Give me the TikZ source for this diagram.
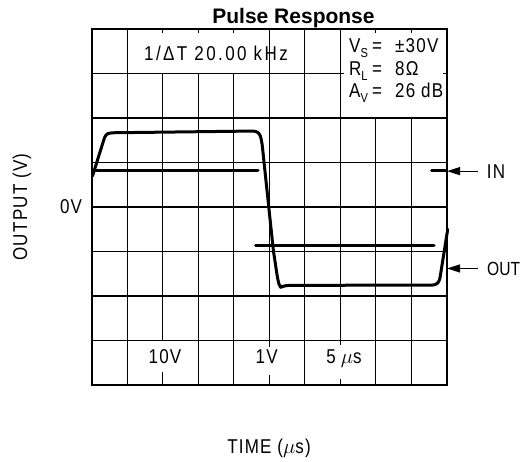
\documentclass[tikz,border=0pt]{standalone}
\usepackage{fontspec}
\usetikzlibrary{arrows.meta}
\setmainfont{Liberation Sans}
\newfontfamily\lblfont[FakeStretch=0.85,LetterSpace=6]{Liberation Sans}
\newfontfamily\tightfont[FakeStretch=0.82]{Liberation Sans}
\newfontfamily\widefont[FakeStretch=0.85,LetterSpace=12]{Liberation Sans}
\newcommand\GX[1]{91.7+35.5*(#1)}
\newcommand\GY[1]{29+44.5*(#1)}
\newcommand\subl[1]{\raisebox{-5pt}{\fontsize{13}{13}\selectfont #1}}
\tikzset{
  lbl/.style={font={\lblfont\fontsize{20}{22}\selectfont}, inner sep=0pt},
  gridline/.style={line width=1.2pt},
  border/.style={line width=2pt},
  trace/.style={line width=3pt, line join=round, line cap=round},
  arr/.style={line width=1.2pt, -{Triangle[length=13pt,width=8pt]}},
}
\begin{document}
\begin{tikzpicture}[x=1pt,y=-1pt]
\useasboundingbox (0,0) rectangle (521,461);
% vertical grid lines
\draw[gridline] ({\GX{1}},{\GY{0}}) -- ({\GX{1}},{\GY{8}});
\draw[gridline] ({\GX{2}},{\GY{0}}) -- ({\GX{2}},{\GY{0}+4});
\draw[gridline] ({\GX{2}},{\GY{1}}) -- ({\GX{2}},{\GY{7}});
\draw[gridline] ({\GX{2}},{\GY{8}-13}) -- ({\GX{2}},{\GY{8}});
\foreach \i in {3,4}{
  \draw[gridline] ({\GX{\i}},{\GY{0}}) -- ({\GX{\i}},{\GY{0}+4});
  \draw[gridline] ({\GX{\i}},{\GY{1}}) -- ({\GX{\i}},{\GY{8}});
}
\draw[gridline] ({\GX{5}},{\GY{0}}) -- ({\GX{5}},{\GY{7}+6});
\draw[gridline] ({\GX{5}},{\GY{8}-10}) -- ({\GX{5}},{\GY{8}});
\draw[gridline] ({\GX{6}},{\GY{0}}) -- ({\GX{6}},{\GY{8}});
\draw[gridline] ({\GX{7}},{\GY{0}}) -- ({\GX{7}},{\GY{7}+4});
\draw[gridline] ({\GX{7}},{\GY{8}-6}) -- ({\GX{7}},{\GY{8}});
\foreach \i in {8,9}{
  \draw[gridline] ({\GX{\i}},{\GY{0}}) -- ({\GX{\i}},{\GY{0}+4});
  \draw[gridline] ({\GX{\i}},{\GY{2}}) -- ({\GX{\i}},{\GY{8}});
}
% horizontal grid lines
\draw[gridline] ({\GX{0}},{\GY{1}}) -- ({\GX{7}+4},{\GY{1}});
\draw[gridline] ({\GX{10}-4},{\GY{1}}) -- ({\GX{10}},{\GY{1}});
\foreach \j in {2,...,7}{
  \draw[gridline] ({\GX{0}},{\GY{\j}}) -- ({\GX{10}},{\GY{\j}});
}
\draw[border] ({\GX{0}},{\GY{0}}) rectangle ({\GX{10}},{\GY{8}});
% traces
\draw[trace] (95,170.7) -- (258,170.7);
\draw[trace] (431.7,170.7) -- (446,170.7);
\draw[trace] (255.7,245.7) -- (434,245.7);
\draw[trace, rounded corners=3pt] (92.5,176) -- (105.5,134.5) -- (110,132.8) -- (256,131) -- (260,134) -- (262,143)
  -- (273.3,250) -- (277.5,278) -- (279.8,287.5) -- (283,286.3) -- (287,285.4) -- (436,285) -- (439.5,281) -- (447.7,229.3);
% title
\node[font={\bfseries\fontsize{21}{24}\selectfont}, anchor=base, inner sep=0pt] (title) at (293.5,23) {Pulse Response};
% labels
\node[lbl, font={\widefont\fontsize{20}{22}\selectfont}, anchor=base] (freq) at (216,60) {1/ΔT 20.00 kHz};
\node[lbl, anchor=base west] (vs) at (349,52) {\makebox[23pt][l]{V\subl{S}}\makebox[23pt][l]{=}±30V};
\node[lbl, anchor=base west] (rl) at (349,75) {\makebox[23pt][l]{R\subl{L}}\makebox[23pt][l]{=}8Ω};
\node[lbl, anchor=base west] (av) at (349,97) {\makebox[23pt][l]{A\subl{V}}\makebox[23pt][l]{=}26 dB};
\node[lbl, anchor=base] (zero) at (71,213) {0V};
\node[lbl, rotate=90] (ylab) at (22,207) {OUTPUT (V)};
\node[lbl, anchor=base] (xlab) at (269,453) {TIME ($\mu$s)};
\node[lbl, anchor=base] (vdiv1) at (165,363) {10V};
\node[lbl, anchor=base] (vdiv2) at (266.7,363) {1V};
\node[lbl, anchor=base] (tdiv) at (344,363) {5\hspace{5pt}$\mu$s};
\node[lbl, anchor=base west] (inl) at (486.7,178) {IN};
\node[lbl, font={\tightfont\fontsize{19}{22}\selectfont}, anchor=base west] (outl) at (487,275) {OUT};
\coordinate (intip) at (447,171);
\coordinate (outtip) at (447,267.3);
\draw[arr, shorten <=8.7pt] (inl.west) -- (inl.west -| intip);
\draw[arr, shorten <=9pt] (outl.west) -- (outl.west -| outtip);
\end{tikzpicture}
\end{document}
